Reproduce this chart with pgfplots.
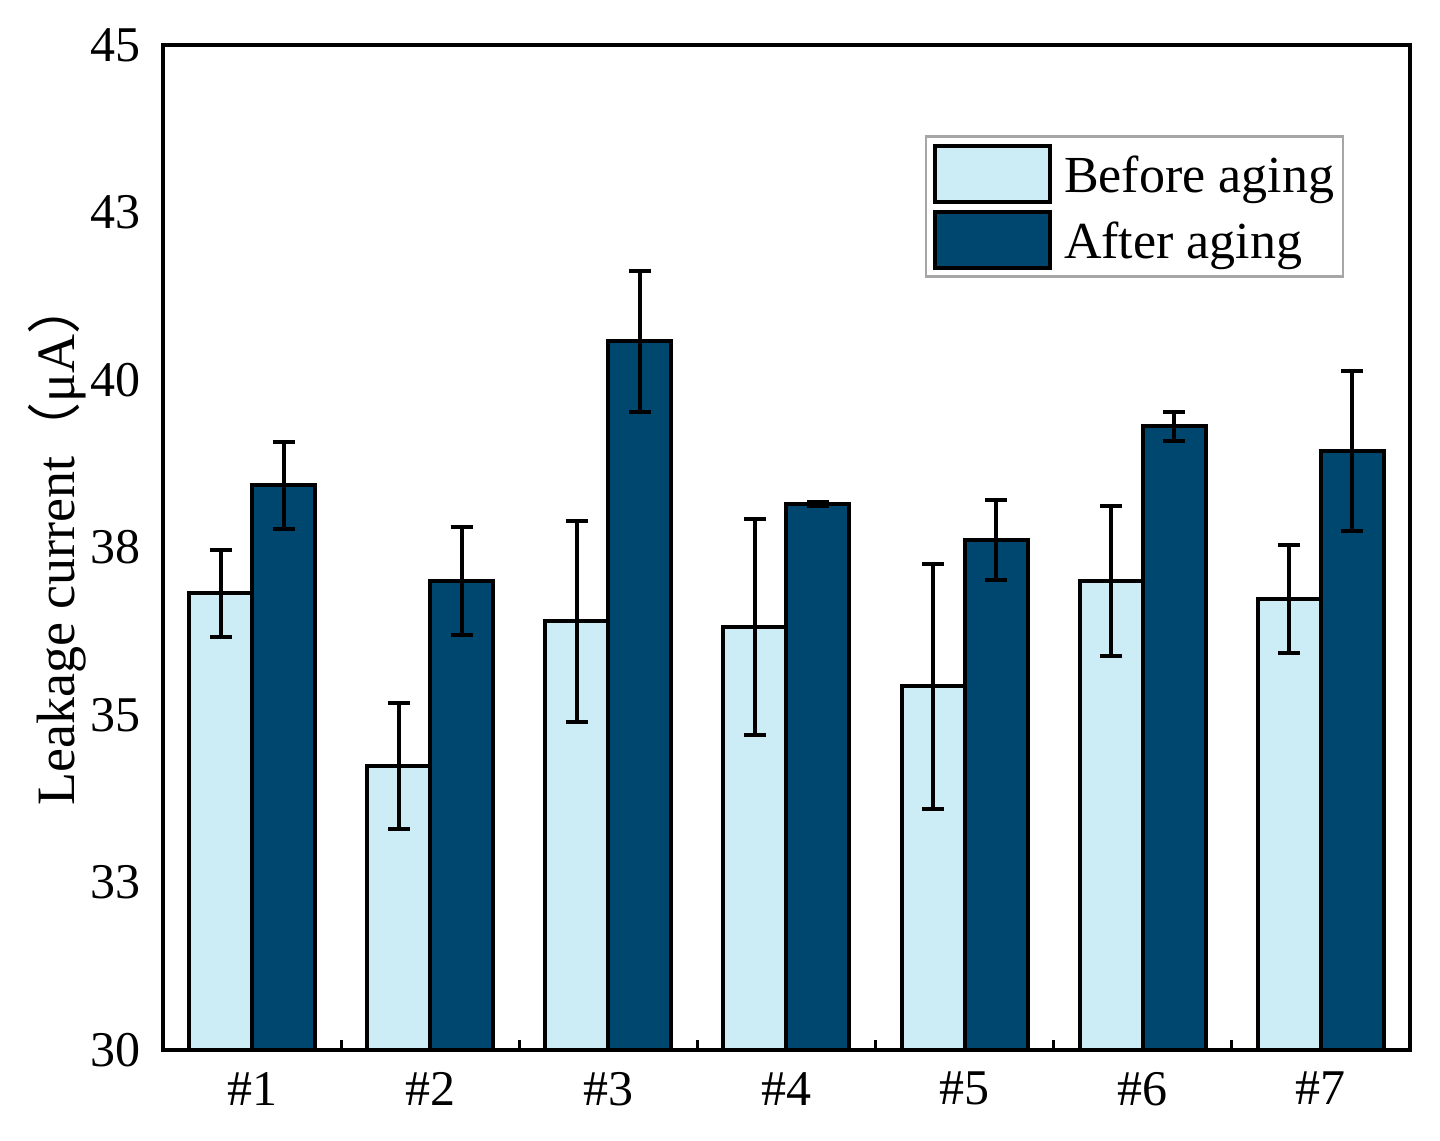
\documentclass[border=0pt]{standalone}
\usepackage{pgfplots}
\pgfplotsset{compat=1.18}
\usepackage{fontspec}
\setmainfont{Liberation Serif}
\newfontfamily\cjk{Noto Sans CJK SC}
\definecolor{before}{HTML}{CDEDF6}
\definecolor{after}{HTML}{00476F}
\begin{document}
\begin{tikzpicture}
\begin{axis}[
    scale only axis,
    width=311.75pt, height=251.25pt,
    ybar=0pt, bar width=15.75pt,
    xmin=0.5, xmax=7.5,
    ymin=30, ymax=45,
    xtick={1,2,3,4,5,6,7},
    xticklabels={\#1,\#2,\#3,\#4,\#5,\#6,\#7},
    minor xtick={1.5,2.5,3.5,4.5,5.5,6.5},
    xtick pos=bottom,
    ytick={30,32.5,35,37.5,40,42.5,45},
    yticklabels={30,33,35,38,40,43,45},
    major tick length=0pt,
    minor tick length=2.5pt,
    tick align=inside,
    tick style={black, line width=0.8pt},
    axis line style={line width=0.8pt},
    font=\fontsize{12.5}{14}\selectfont,
    tick label style={font=\fontsize{12.5}{14}\selectfont},
    /pgf/number format/assume math mode=true,
    yticklabel style={xshift=-2pt},
    xticklabel style={yshift=-2pt},
    ylabel={Leakage current{\cjk（}μA{\cjk）}},
    ylabel style={at={(rel axis cs:-0.085,0.5045)}, anchor=center, rotate=0,
                  font=\fontsize{13.5}{15}\selectfont},
    legend style={at={(rel axis cs:0.611,0.910)}, anchor=north west,
                  draw=gray!70, line width=0.6pt, inner sep=1.75pt, row sep=1.5pt,
                  column sep=2.5pt,
                  font=\fontsize{13}{15}\selectfont,
                  nodes={inner sep=0.5pt}},
    legend image code/.code={\draw[#1, line width=1pt] (0pt,-6pt) rectangle (28.75pt,8pt);},
    legend cell align=left,
    error bars/error bar style={black, line width=1pt},
    error bars/error mark options={black, rotate=90, mark size=2.75pt, line width=1pt},
    after end axis/.code={
        \path (rel axis cs:-0.1307,-0.0896) rectangle (rel axis cs:1.0241,1.0448);
    },
]
% before aging
\addplot [draw=black, line width=1pt, fill=before,
          error bars/.cd, y dir=both, y explicit]
  coordinates {
    (1,36.82) +- (0,0.65)
    (2,34.24) +- (0,0.94)
    (3,36.40) +- (0,1.50)
    (4,36.31) +- (0,1.61)
    (5,35.43) +- (0,1.83)
    (6,37.00) +- (0,1.12)
    (7,36.73) +- (0,0.81)
  };
% after aging
\addplot [draw=black, line width=1pt, fill=after,
          error bars/.cd, y dir=both, y explicit]
  coordinates {
    (1,38.43) +- (0,0.65)
    (2,37.00) +- (0,0.81)
    (3,40.58) +- (0,1.05)
    (4,38.15) +- (0,0.03)
    (5,37.61) +- (0,0.60)
    (6,39.31) +- (0,0.22)
    (7,38.94) +- (0,1.19)
  };
\legend{Before aging, After aging}
\end{axis}
\end{tikzpicture}
\end{document}
